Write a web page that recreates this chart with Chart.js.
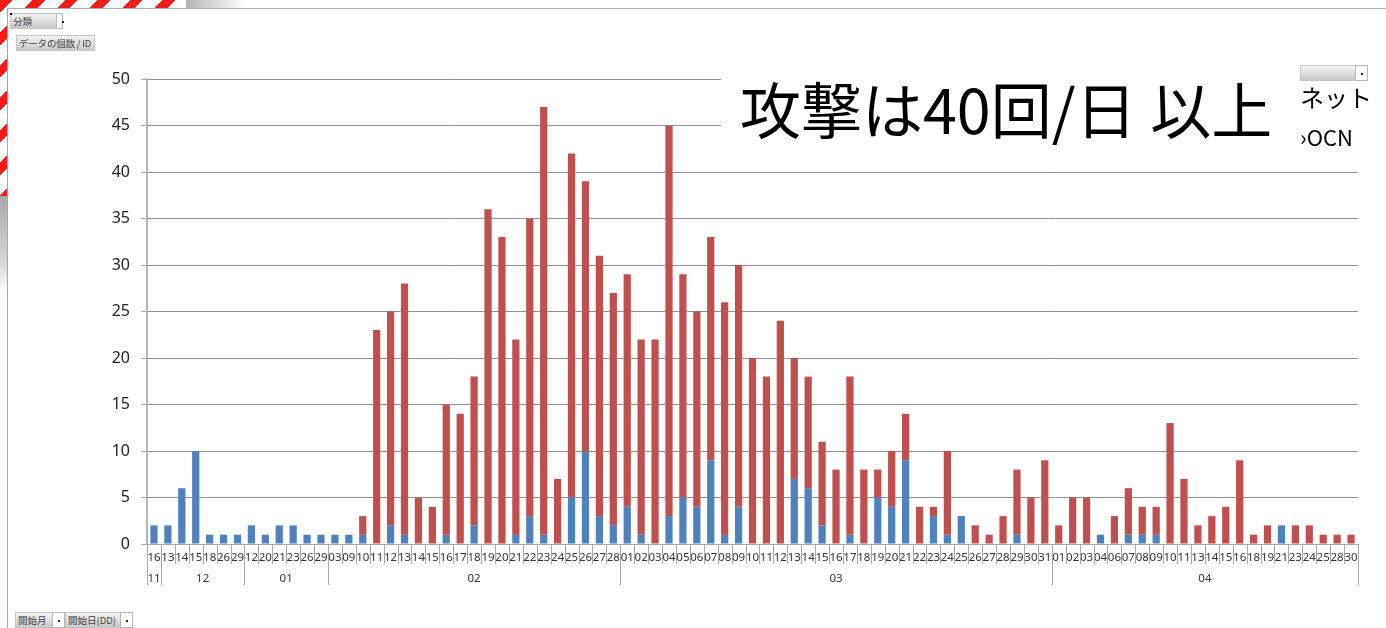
<!DOCTYPE html>
<html lang="ja">
<head>
<meta charset="utf-8">
<title>攻撃件数（日別）</title>
<script src="https://cdn.jsdelivr.net/npm/chart.js@4.4.1/dist/chart.umd.min.js"></script>
<style>
  html, body { margin: 0; padding: 0; background: #fff; }
  #wrap { position: relative; width: 1386px; height: 628px; overflow: hidden; background: #fff; }
  #chart { position: absolute; left: 0; top: 0; }
  .stripes { position: absolute; background: repeating-linear-gradient(135deg, #ff1a1a 0 9px, #ffffff 9px 23px); }
  .btn { position: absolute; box-sizing: border-box; height: 16px; border: 1px solid #c4c4c4;
         background: linear-gradient(#f4f4f4, #c9c9c9); font: 9.5px "Noto Sans CJK JP", sans-serif;
         color: #404040; line-height: 14px; padding-left: 2px; white-space: nowrap; overflow: hidden; }
  .dd { position: absolute; top: -1px; box-sizing: border-box; width: 13px; height: 16px; background: #fff;
        border: 1px solid #b8b8b8; }
  .dd::after { content: ""; position: absolute; left: 5px; top: 7px; width: 2px; height: 2px; background: #222; }
  #titlebox { position: absolute; left: 721px; top: 66px; width: 665px; height: 96px; background: #fff; }
  #title { position: absolute; left: 19px; top: 11px; font: 61px/61px "Noto Sans CJK JP", sans-serif; color: #000; white-space: nowrap; }
  .leg { position: absolute; font-family: "Noto Sans CJK JP", sans-serif; color: #000; white-space: nowrap; }
</style>
</head>
<body>
<div id="wrap">
  <canvas id="chart" width="1386" height="628"></canvas>

  <!-- window frame pieces -->
  <div class="stripes" style="left:0;top:0;width:186px;height:8px;"></div>
  <div style="position:absolute;left:186px;top:0;width:60px;height:8px;background:linear-gradient(to right,#b5b5b5,#ffffff);"></div>
  <div class="stripes" style="left:0;top:0;width:7px;height:196px;"></div>
  <div style="position:absolute;left:0;top:196px;width:7px;height:96px;background:linear-gradient(#a9a9a9,#d8d8d8 70%,#ffffff);"></div>
  <div style="position:absolute;left:7px;top:8px;width:1px;height:620px;background:#a8a8a8;"></div>
  <div style="position:absolute;left:7px;top:8px;width:1379px;height:1px;background:#b0b0b0;"></div>

  <!-- pivot field buttons -->
  <div class="btn" style="left:10px;top:13px;width:52px;overflow:visible;">分類<div class="dd" style="left:45px;width:7px;"></div></div>
  <div style="position:absolute;left:10px;top:13px;width:2px;height:2px;background:#000;"></div>
  <div class="btn" style="left:16px;top:35px;width:79px;letter-spacing:-0.2px;">データの個数 / ID</div>
  <div class="btn" style="left:15px;top:612px;width:50px;overflow:visible;">開始月<div class="dd" style="left:36px;"></div></div>
  <div class="btn" style="left:65px;top:612px;width:68px;overflow:visible;">開始日(DD)<div class="dd" style="left:54px;"></div></div>

  <!-- title and series labels -->
  <div id="titlebox"><div id="title">攻撃は40回/日 以上</div></div>
  <div class="btn" style="left:1300px;top:65px;width:68px;overflow:visible;"><div class="dd" style="left:54px;"></div></div>
  <div class="leg" style="left:1300px;top:82px;font-size:24px;line-height:30px;">ネット</div>
  <div class="leg" style="left:1300px;top:121px;font-size:22px;line-height:30px;">›OCN</div>
</div>

<script>
// Start month of each day shown on the axis
const months = [
  '11',
  '12','12','12','12','12','12',
  '01','01','01','01','01','01',
  '02','02','02','02','02','02','02','02','02','02','02','02','02','02','02','02','02','02','02','02','02',
  '03','03','03','03','03','03','03','03','03','03','03','03','03','03','03','03','03','03','03','03','03','03','03','03','03','03','03','03','03','03','03',
  '04','04','04','04','04','04','04','04','04','04','04','04','04','04','04','04','04','04','04','04','04','04'
];

// Start day (DD)
const days = [
  '16',
  '13','14','15','18','26','29',
  '12','20','21','23','26','29',
  '03','09','10','11','12','13','14','15','16','17','18','19','20','21','22','23','24','25','26','27','28',
  '01','02','03','04','05','06','07','08','09','10','11','12','13','14','15','16','17','18','19','20','21','22','23','24','25','26','27','28','29','30','31',
  '01','02','03','04','06','07','08','09','10','11','13','14','15','16','18','19','21','23','24','25','28','30'
];

// Count of ID per day: ネット (blue, lower segment)
const netCounts = [
  2,
  2,6,10,1,1,1,
  2,1,2,2,1,1,
  1,1,1,0,2,1,0,0,1,0,2,0,0,1,3,1,0,5,10,3,2,
  4,1,0,3,5,4,9,1,4,0,0,0,7,6,2,0,1,0,5,4,9,0,3,1,3,0,0,0,1,0,0,
  0,0,0,1,0,1,1,1,0,0,0,0,0,0,0,0,2,0,0,0,0,0
];

// Count of ID per day: OCN (red, upper segment)
const ocnCounts = [
  0,
  0,0,0,0,0,0,
  0,0,0,0,0,0,
  0,0,2,23,23,27,5,4,14,14,16,36,33,21,32,46,7,37,29,28,25,
  25,21,22,42,24,21,24,25,26,20,18,24,13,12,9,8,17,8,3,6,5,4,1,9,0,2,1,3,7,5,9,
  2,5,5,0,3,5,3,3,13,7,2,3,4,9,1,2,0,2,2,1,1,1
];

const yTicks = [0, 5, 10, 15, 20, 25, 30, 35, 40, 45, 50];

// Two-level category axis: per-day separators, month groups and month labels
const monthAxis = {
  id: 'monthAxis',
  afterDraw(chart) {
    const { ctx, chartArea } = chart;
    const x = chart.scales.x;
    const n = days.length;
    const half = (x.getPixelForValue(1) - x.getPixelForValue(0)) / 2;
    const bottom = chartArea.bottom;
    ctx.save();
    ctx.strokeStyle = '#a9a9a9';
    ctx.lineWidth = 1;
    const groups = [];
    for (let i = 0; i <= n; i++) {
      const edge = i < n ? x.getPixelForValue(i) - half : x.getPixelForValue(n - 1) + half;
      const isGroup = i === 0 || i === n || months[i] !== months[i - 1];
      const px = Math.round(edge) + 0.5;
      ctx.beginPath();
      ctx.moveTo(px, bottom);
      ctx.lineTo(px, bottom + (isGroup ? 41 : 20));
      ctx.stroke();
      if (isGroup) groups.push({ i, px: edge });
    }
    ctx.fillStyle = '#333';
    ctx.font = '11.5px "Noto Sans", sans-serif';
    ctx.textAlign = 'center';
    ctx.textBaseline = 'middle';
    for (let g = 0; g < groups.length - 1; g++) {
      const cx = (groups[g].px + groups[g + 1].px) / 2;
      ctx.fillText(months[groups[g].i], cx, bottom + 35);
    }
    ctx.restore();
  }
};

new Chart(document.getElementById('chart'), {
  type: 'bar',
  data: {
    labels: days,
    datasets: [
      { label: 'ネット', data: netCounts, backgroundColor: '#4F81BD', barPercentage: 0.52, categoryPercentage: 1.0 },
      { label: 'OCN', data: ocnCounts, backgroundColor: '#C0504D', barPercentage: 0.52, categoryPercentage: 1.0 }
    ]
  },
  options: {
    responsive: false,
    animation: false,
    devicePixelRatio: 1,
    layout: { padding: { top: 79, right: 28, left: 0, bottom: 0 } },
    plugins: { legend: { display: false }, tooltip: { enabled: false } },
    scales: {
      x: {
        stacked: true,
        offset: true,
        grid: { display: true, drawOnChartArea: false, drawTicks: false },
        border: { display: true, color: '#a9a9a9', width: 1 },
        ticks: {
          autoSkip: false, maxRotation: 0, minRotation: 0, padding: 7,
          color: '#333', font: { family: '"Noto Sans", sans-serif', size: 11.5 }
        },
        afterFit(scale) { scale.height = 84; }
      },
      y: {
        stacked: true,
        min: 0,
        max: 50,
        afterBuildTicks(scale) { scale.ticks = yTicks.map(v => ({ value: v })); },
        grid: { color: '#8f8f8f', lineWidth: 1, tickLength: 6, tickColor: '#a9a9a9' },
        border: { display: true, color: '#b5b5b5', width: 2 },
        ticks: {
          padding: 11, color: '#222',
          font: { family: '"Noto Sans", sans-serif', size: 16 }
        },
        afterFit(scale) { scale.width = 147; }
      }
    }
  },
  plugins: [monthAxis]
});
</script>
</body>
</html>
